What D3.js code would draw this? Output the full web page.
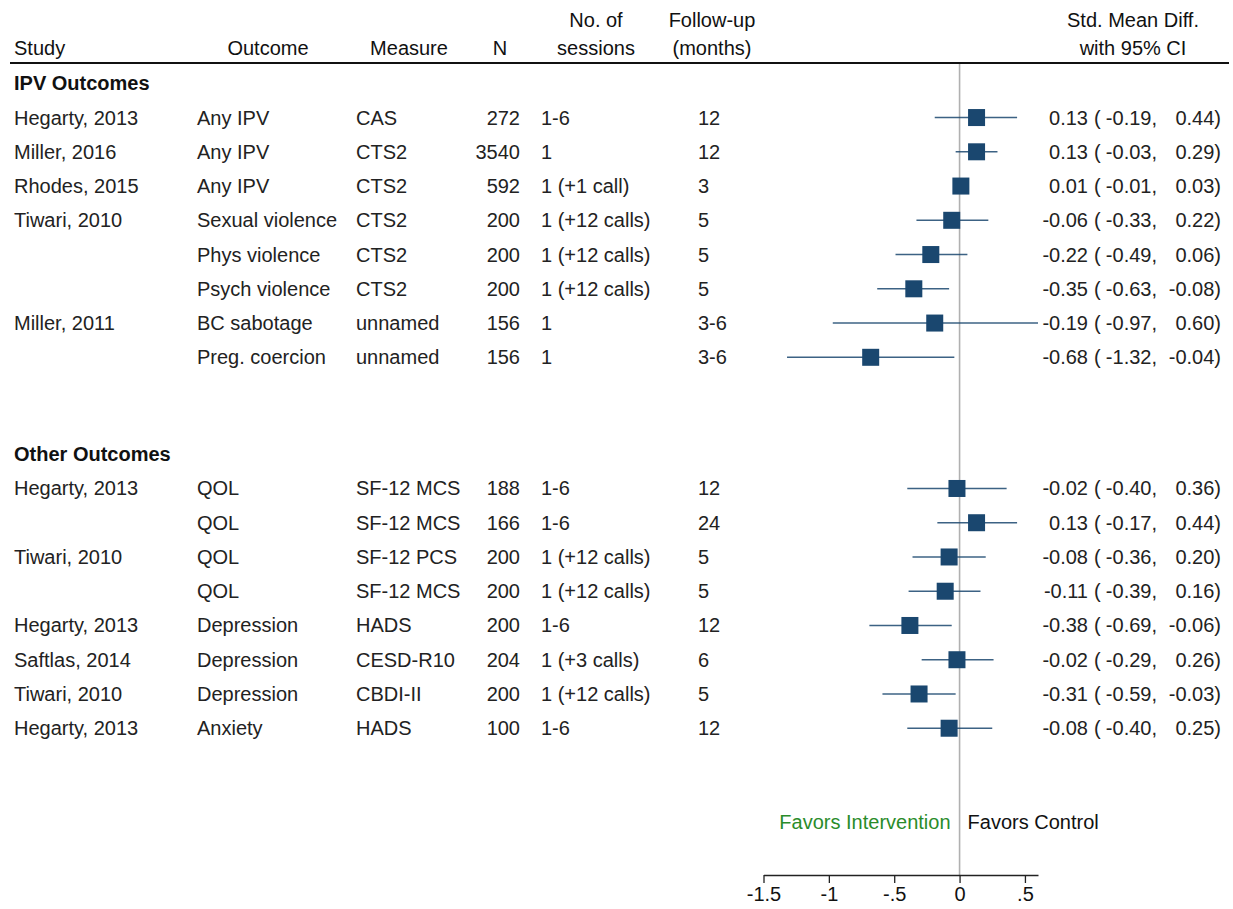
<!DOCTYPE html>
<html>
<head>
<meta charset="utf-8">
<script src="https://cdn.jsdelivr.net/npm/d3@7"></script>
<style>
  body { margin: 0; background: #fff; }
  svg text { font-family: "Liberation Sans", Arial, sans-serif; font-size: 20px; fill: #222; }
</style>
</head>
<body>
<script>
// groups and rows of the table
var groups = ["IPV Outcomes", "Other Outcomes"];
var groupOf = [0, 0, 0, 0, 0, 0, 0, 0, 1, 1, 1, 1, 1, 1, 1, 1];
var studies = ["Hegarty, 2013", "Miller, 2016", "Rhodes, 2015", "Tiwari, 2010", "", "", "Miller, 2011", "",
               "Hegarty, 2013", "", "Tiwari, 2010", "", "Hegarty, 2013", "Saftlas, 2014", "Tiwari, 2010", "Hegarty, 2013"];
var outcomes = ["Any IPV", "Any IPV", "Any IPV", "Sexual violence", "Phys violence", "Psych violence", "BC sabotage", "Preg. coercion",
                "QOL", "QOL", "QOL", "QOL", "Depression", "Depression", "Depression", "Anxiety"];
var measures = ["CAS", "CTS2", "CTS2", "CTS2", "CTS2", "CTS2", "unnamed", "unnamed",
                "SF-12 MCS", "SF-12 MCS", "SF-12 PCS", "SF-12 MCS", "HADS", "CESD-R10", "CBDI-II", "HADS"];
var ns = [272, 3540, 592, 200, 200, 200, 156, 156, 188, 166, 200, 200, 200, 204, 200, 100];
var sessions = ["1-6", "1", "1 (+1 call)", "1 (+12 calls)", "1 (+12 calls)", "1 (+12 calls)", "1", "1",
                "1-6", "1-6", "1 (+12 calls)", "1 (+12 calls)", "1-6", "1 (+3 calls)", "1 (+12 calls)", "1-6"];
var followup = ["12", "12", "3", "5", "5", "5", "3-6", "3-6", "12", "24", "5", "5", "12", "6", "5", "12"];
var smd   = [0.13, 0.13, 0.01, -0.06, -0.22, -0.35, -0.19, -0.68, -0.02, 0.13, -0.08, -0.11, -0.38, -0.02, -0.31, -0.08];
var lower = [-0.19, -0.03, -0.01, -0.33, -0.49, -0.63, -0.97, -1.32, -0.40, -0.17, -0.36, -0.39, -0.69, -0.29, -0.59, -0.40];
var upper = [0.44, 0.29, 0.03, 0.22, 0.06, -0.08, 0.60, -0.04, 0.36, 0.44, 0.20, 0.16, -0.06, 0.26, -0.03, 0.25];
var xTicks = [-1.5, -1, -0.5, 0, 0.5];
var xTickLabels = ["-1.5", "-1", "-.5", "0", ".5"];

var width = 1233, height = 909;

var svg = d3.select("body").append("svg")
    .attr("width", width)
    .attr("height", height);

// x scale of the forest part
var x = d3.scaleLinear().domain([-1.5, 0.6]).range([763.5, 1038]);

// row positions: group heading, then its rows; second group pushed down by a gap
var rowStep = 34.25, gapRows = 1.83;
var y = d3.scaleLinear().domain([0, 1]).range([83.3, 83.3 + rowStep]);
function rowPos(i) {
  var g = groupOf[i];
  var local = groupOf.slice(0, i).filter(function(v) { return v === g; }).length;
  return y(g * (9 + gapRows) + 1 + local);
}
function groupPos(g) { return y(g * (9 + gapRows)); }

// plain hyphen minus, like the original
var fmt = function(v) { return v.toFixed(2); };
var rows = d3.range(smd.length);

// header
var header = svg.append("g");
header.append("text").attr("x", 14).attr("y", 55).style("fill", "#111").text("Study");
header.append("text").attr("x", 268).attr("y", 55).attr("text-anchor", "middle").style("fill", "#111").text("Outcome");
header.append("text").attr("x", 409).attr("y", 55).attr("text-anchor", "middle").style("fill", "#111").text("Measure");
header.append("text").attr("x", 500).attr("y", 55).attr("text-anchor", "middle").style("fill", "#111").text("N");
header.append("text").attr("x", 596).attr("y", 27).attr("text-anchor", "middle").style("fill", "#111").text("No. of");
header.append("text").attr("x", 596).attr("y", 55).attr("text-anchor", "middle").style("fill", "#111").text("sessions");
header.append("text").attr("x", 712).attr("y", 27).attr("text-anchor", "middle").style("fill", "#111").text("Follow-up");
header.append("text").attr("x", 712).attr("y", 55).attr("text-anchor", "middle").style("fill", "#111").text("(months)");
header.append("text").attr("x", 1133).attr("y", 27).attr("text-anchor", "middle").style("fill", "#111").text("Std. Mean Diff.");
header.append("text").attr("x", 1133).attr("y", 55).attr("text-anchor", "middle").style("fill", "#111").text("with 95% CI");

svg.append("line")
    .attr("x1", 10).attr("x2", 1229)
    .attr("y1", 63).attr("y2", 63)
    .attr("stroke", "#111").attr("stroke-width", 2);

// zero line
svg.append("line")
    .attr("x1", x(0)).attr("x2", x(0))
    .attr("y1", 64).attr("y2", 875)
    .attr("stroke", "#b0b0b0").attr("stroke-width", 1.6);

// group headings
svg.selectAll("text.group")
    .data(groups)
    .enter().append("text")
    .attr("class", "group")
    .attr("x", 14)
    .attr("y", function(d, g) { return groupPos(g); })
    .attr("dy", "0.35em")
    .style("font-weight", "bold")
    .style("fill", "#111")
    .text(function(d) { return d; });

// table columns
var cols = [
  { vals: studies, x: 14, anchor: "start" },
  { vals: outcomes, x: 197, anchor: "start" },
  { vals: measures, x: 356, anchor: "start" },
  { vals: ns, x: 520, anchor: "end" },
  { vals: sessions, x: 541, anchor: "start" },
  { vals: followup, x: 698, anchor: "start" }
];
cols.forEach(function(c) {
  svg.append("g").selectAll("text")
      .data(rows)
      .enter().append("text")
      .attr("x", c.x)
      .attr("y", rowPos)
      .attr("dy", "0.35em")
      .attr("text-anchor", c.anchor)
      .text(function(i) { return c.vals[i]; });
});

// effect text, column aligned like the original
var eff = svg.append("g").selectAll("g")
    .data(rows)
    .enter().append("g")
    .attr("transform", function(i) { return "translate(0," + rowPos(i) + ")"; });
eff.append("text").attr("x", 1088).attr("dy", "0.35em").attr("text-anchor", "end")
    .text(function(i) { return fmt(smd[i]); });
eff.append("text").attr("x", 1094).attr("dy", "0.35em").text("(");
eff.append("text").attr("x", 1157).attr("dy", "0.35em").attr("text-anchor", "end")
    .text(function(i) { return fmt(lower[i]) + ","; });
eff.append("text").attr("x", 1221).attr("dy", "0.35em").attr("text-anchor", "end")
    .text(function(i) { return fmt(upper[i]) + ")"; });

// CIs and boxes
var marks = svg.append("g").selectAll("g")
    .data(rows)
    .enter().append("g");
marks.append("line")
    .attr("x1", function(i) { return x(lower[i]); })
    .attr("x2", function(i) { return x(upper[i]); })
    .attr("y1", rowPos).attr("y2", rowPos)
    .attr("stroke", "#1a476f").attr("stroke-width", 1.5)
    .attr("stroke-opacity", 0.85);
var box = 17;
marks.append("rect")
    .attr("x", function(i) { return x(smd[i]) - box / 2; })
    .attr("y", function(i) { return rowPos(i) - box / 2; })
    .attr("width", box).attr("height", box)
    .attr("fill", "#1a476f");

// favors labels
svg.append("text").attr("x", x(0) - 9).attr("y", 822).attr("dy", "0.35em")
    .attr("text-anchor", "end").style("fill", "#2a8c2a").text("Favors Intervention");
svg.append("text").attr("x", x(0) + 8).attr("y", 822).attr("dy", "0.35em")
    .style("fill", "#111").text("Favors Control");

// x axis
var axis = svg.append("g")
    .attr("transform", "translate(0,875)")
    .call(d3.axisBottom(x).tickValues(xTicks)
      .tickFormat(function(d, i) { return xTickLabels[i]; })
      .tickSize(8).tickPadding(4).tickSizeOuter(0));
axis.select(".domain").attr("stroke", "#222").attr("stroke-width", 1.3);
axis.selectAll(".tick line").attr("stroke", "#222").attr("stroke-width", 1.3);
axis.selectAll(".tick text")
    .style("font-family", "'Liberation Sans', Arial, sans-serif")
    .style("font-size", "20px").style("fill", "#111");
</script>
</body>
</html>
